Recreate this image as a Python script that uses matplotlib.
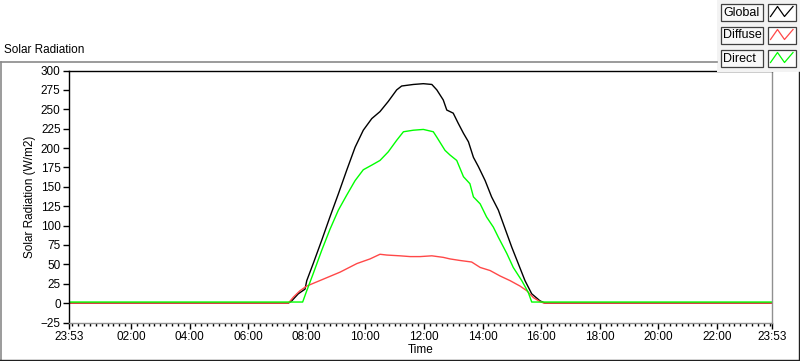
import numpy as np
import matplotlib
matplotlib.use("Agg")
import matplotlib.pyplot as plt
from matplotlib.patches import Rectangle
from matplotlib.lines import Line2D

plt.rcParams["font.family"] = ["Liberation Sans", "DejaVu Sans"]

# time in clock hours, -0.117 = 23:53 of the previous day
global_t = [-0.117, 7.37, 7.49, 7.71, 7.94, 8.0, 8.22, 8.51, 8.79, 9.08, 9.36, 9.65, 9.93,
            10.22, 10.5, 10.78, 11.07, 11.24, 11.64, 11.98, 12.27, 12.44, 12.66, 12.78, 13.0,
            13.17, 13.35, 13.52, 13.69, 13.86, 14.09, 14.31, 14.54, 14.77, 15.0, 15.22, 15.45,
            15.68, 15.96, 16.13, 23.883]
global_v = [0, 0, 3, 12, 18, 29, 51, 81, 111, 141, 171, 201, 223,
            238, 247, 260, 275, 280, 282, 283, 282, 275, 262, 249, 245,
            232, 219, 208, 188, 176, 158, 137, 120, 96, 72, 51, 29,
            12, 3, 0, 0]

diffuse_t = [-0.117, 7.37, 7.55, 7.77, 8.0, 8.57, 9.14, 9.71, 10.16, 10.5, 10.73, 11.18,
             11.53, 11.87, 12.27, 12.66, 12.89, 13.23, 13.63, 13.92, 14.26, 14.60, 14.94,
             15.28, 15.51, 15.74, 15.96, 16.1, 23.883]
diffuse_v = [0, 0, 8, 16, 22, 31, 40, 51, 57, 63, 62, 61,
             60, 60, 61, 59, 57, 55, 53, 46, 42, 35, 29,
             22, 16, 7, 2, 0, 0]

direct_t = [-0.117, 7.86, 8.0, 8.22, 8.51, 8.79, 9.08, 9.36, 9.65, 9.93, 10.22, 10.5,
            10.78, 11.07, 11.3, 11.64, 11.98, 12.32, 12.44, 12.72, 12.89, 13.12, 13.35,
            13.57, 13.69, 13.92, 14.14, 14.37, 14.54, 14.83, 15.05, 15.34, 15.56, 15.68, 23.883]
direct_v = [1.4, 1.4, 16, 38, 68, 95, 120, 139, 158, 172, 178, 184,
            195, 210, 221, 223, 224, 221, 214, 197, 191, 184, 163,
            154, 137, 128, 111, 98, 85, 64, 46, 29, 14, 1.4, 1.4]

series_names = ["Global", "Diffuse", "Direct"]
series_colors = ["#000000", "#FF4848", "#00FF00"]

x_ticks = [-0.117, 2, 4, 6, 8, 10, 12, 14, 16, 18, 20, 22, 23.883]
x_labels = ["23:53", "02:00", "04:00", "06:00", "08:00", "10:00", "12:00",
            "14:00", "16:00", "18:00", "20:00", "22:00", "23:53"]
y_ticks = [-25, 0, 25, 50, 75, 100, 125, 150, 175, 200, 225, 250, 275, 300]

W, H = 800, 361
fig = plt.figure(figsize=(W / 100, H / 100), dpi=100)


def fx(x):
    return x / W


def fy(y):
    return 1 - y / H


# outer frame of the graph panel
fig.add_artist(Line2D([fx(0.5), fx(717)], [fy(61.5), fy(61.5)], color="#8a8a8a", lw=1.2))
fig.add_artist(Line2D([fx(0.8), fx(0.8)], [fy(61.5), fy(359.5)], color="#8a8a8a", lw=1.2))
fig.add_artist(Line2D([fx(0), fx(799)], [fy(359.5), fy(359.5)], color="#202020", lw=1.0))
fig.add_artist(Line2D([fx(798.5), fx(798.5)], [fy(72), fy(359.5)], color="#202020", lw=1.0))

fig.text(fx(4), fy(50), "Solar Radiation", fontsize=8.5, ha="left", va="center")

ax = fig.add_axes([fx(69), fy(322.5), fx(772 - 69), (322.5 - 70.5) / H])
for t, v, c in zip([global_t, diffuse_t, direct_t], [global_v, diffuse_v, direct_v], series_colors):
    ax.plot(t, v, color=c, lw=1.0)

ax.set_xlim(-0.117, 23.883)
ax.set_ylim(-25, 300)
ax.set_xticks(x_ticks)
ax.set_xticklabels(x_labels)
ax.set_xticks(np.arange(0, 23.9, 0.2), minor=True)
ax.set_yticks(y_ticks)
ax.tick_params(axis="both", which="major", labelsize=8.5, length=4, width=1, pad=2)
ax.tick_params(axis="x", which="minor", length=2.5, width=1)
ax.set_xlabel("Time", fontsize=8.5, labelpad=1)
ax.set_ylabel("Solar Radiation (W/m2)", fontsize=8.5, labelpad=3)
ax.spines["left"].set_color("#000000")
ax.spines["top"].set_color("#000000")
ax.spines["right"].set_color("#909090")
ax.spines["bottom"].set_color("#909090")
for s in ax.spines.values():
    s.set_linewidth(1.0)

# plot legend panel in the top-right corner
fig.add_artist(Rectangle((fx(717), fy(72)), fx(83), 72 / H, transform=fig.transFigure,
                         facecolor="#F3F3F3", edgecolor="none"))
for i, (name, col) in enumerate(zip(series_names, series_colors)):
    top = 4 + 23 * i
    fig.add_artist(Rectangle((fx(721), fy(top + 17)), fx(42), 17 / H, transform=fig.transFigure,
                             facecolor="#F8F8F8", edgecolor="#404040", lw=0.9))
    fig.text(fx(723.5), fy(top + 8.5), name, fontsize=9, ha="left", va="center")
    fig.add_artist(Rectangle((fx(767.5), fy(top + 17)), fx(28.5), 17 / H, transform=fig.transFigure,
                             facecolor="#FFFFFF", edgecolor="#404040", lw=0.9))
    zx = [770.5, 777.5, 784.5, 793]
    zy = [top + 12.5, top + 2.5, top + 12.5, top + 2.5]
    fig.add_artist(Line2D([fx(v) for v in zx], [fy(v) for v in zy], color=col, lw=0.9))

fig.savefig("out.png", dpi=100)
